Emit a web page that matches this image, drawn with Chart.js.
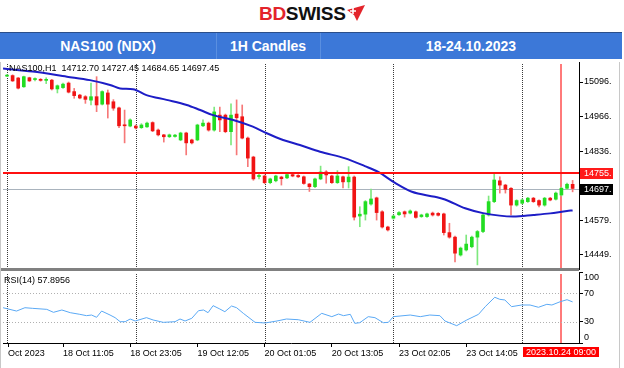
<!DOCTYPE html>
<html lang="en">
<head>
    <meta charset="UTF-8">
    <title>NAS100 (NDX) 1H Candles</title>
    <script src="https://cdn.jsdelivr.net/npm/chart.js"></script>
    <style>
        body {
            margin: 0;
            width: 624px;
            height: 368px;
            position: relative;
            overflow: hidden;
            background: #fff;
            font-family: Arial, "Liberation Sans", sans-serif;
        }
        #logo {
            position: absolute;
            left: 259px;
            top: 3px;
            font-weight: bold;
            font-size: 19px;
            line-height: 22px;
            letter-spacing: -0.3px;
            white-space: nowrap;
        }
        #logo .bd { color: #e3242b; }
        #logo .sw { color: #111; }
        #logo svg { position: absolute; left: 88px; top: 2px; }
        #header {
            position: absolute;
            left: 0;
            top: 32px;
            width: 622px;
            height: 27px;
            background: #3c78d8;
            border-top: 1px solid #2a4e8a;
            box-sizing: border-box;
        }
        #header .cell {
            position: absolute;
            top: 0;
            height: 26px;
            line-height: 26px;
            text-align: center;
            color: #fff;
            font-weight: bold;
            font-size: 14px;
        }
        #header .sep { position: absolute; top: 0; width: 1px; height: 26px; background: #5a8fe0; }
        canvas { position: absolute; left: 0; }
        #priceChart { top: 48px; }
        #rsiChart { top: 256px; }
        .info { position: absolute; font-size: 9px; line-height: 11px; color: #000; white-space: nowrap; }
        #panelSep { position: absolute; left: 0; top: 268px; width: 579px; height: 3px; background: #808080; }
        #leftEdge { position: absolute; left: 0; top: 62px; width: 1px; height: 306px; background: #c8c8c8; }
        #rightEdge { position: absolute; left: 619px; top: 62px; width: 1px; height: 306px; background: #c8c8c8; }
    </style>
</head>
<body>
    <div id="logo"><span class="bd">BD</span><span class="sw">SWISS</span><svg width="18" height="16" viewBox="0 0 18 16"><polygon points="0,5 18,0 10,16 7,10" fill="#e3242b"/><path d="M6 3v6M3 6h6" stroke="#fff" stroke-width="1.6"/></svg></div>
    <div id="header">
        <div class="cell" style="left:0;width:216px">NAS100 (NDX)</div>
        <div class="sep" style="left:216px"></div>
        <div class="cell" style="left:216px;width:104px">1H Candles</div>
        <div class="sep" style="left:320px"></div>
        <div class="cell" style="left:320px;width:302px">18-24.10.2023</div>
    </div>

    <canvas id="priceChart" width="624" height="229"></canvas>
    <canvas id="rsiChart" width="624" height="112"></canvas>
    <div id="panelSep"></div>
    <div id="leftEdge"></div>
    <div id="rightEdge"></div>
    <div class="info" style="left:9px;top:63px">NAS100,H1&nbsp; 14712.70 14727.45 14684.65 14697.45</div>
    <div class="info" style="left:4px;top:275px">RSI(14) 57.8956</div>

    <script>
        // hourly candles, 18.10 - 24.10.2023
        const open = [15118, 15120, 15111, 15078, 15112, 15105, 15106, 15102, 15103, 15070,
            15075, 15092, 15060, 15047, 15041, 15028, 15041, 15013, 15055, 15022,
            14999, 14935, 14931, 14931, 14925, 14928, 14944, 14916, 14898, 14891,
            14892, 14879, 14905, 14879, 14879, 14932, 14942, 14916, 14972, 14972,
            14910, 14976, 14966, 14886, 14815, 14742, 14744, 14719, 14726, 14740,
            14737, 14749, 14746, 14741, 14714, 14704, 14733, 14759, 14744, 14719,
            14741, 14722, 14740, 14594, 14601, 14639, 14662, 14610, 14553, 14586,
            14599, 14610, 14605, 14610, 14592, 14592, 14605, 14604, 14602, 14532,
            14515, 14448, 14467, 14479, 14515, 14536, 14598, 14648, 14726, 14710,
            14698, 14635, 14642, 14648, 14661, 14652, 14635, 14661, 14657, 14673,
            14698, 14712.70];
        const high = [15124, 15123, 15113, 15118, 15114, 15112, 15109, 15112, 15106, 15085,
            15092, 15096, 15072, 15050, 15045, 15092, 15116, 15063, 15066, 15030,
            15002, 14991, 14958, 14935, 14940, 14946, 14947, 14920, 14900, 14901,
            14900, 14908, 14908, 14882, 14938, 14954, 14946, 15002, 15002, 14976,
            15014, 15029, 15010, 14890, 14818, 14751, 14748, 14736, 14747, 14743,
            14752, 14752, 14749, 14744, 14716, 14736, 14781, 14764, 14747, 14764,
            14744, 14779, 14744, 14629, 14652, 14695, 14665, 14614, 14556, 14598,
            14611, 14613, 14617, 14613, 14601, 14605, 14609, 14607, 14605, 14567,
            14519, 14478, 14523, 14519, 14540, 14602, 14669, 14754, 14741, 14713,
            14701, 14655, 14658, 14664, 14664, 14655, 14664, 14664, 14684, 14702,
            14717, 14727.45];
        const low = [15116, 15098, 15070, 15076, 15098, 15100, 15099, 15090, 15066, 15055,
            15072, 15055, 15035, 15033, 15016, 15010, 14985, 15010, 14961, 14990,
            14925, 14868, 14928, 14920, 14922, 14926, 14910, 14894, 14871, 14888,
            14889, 14876, 14823, 14864, 14876, 14929, 14912, 14912, 14910, 14906,
            14860, 14823, 14883, 14779, 14728, 14733, 14715, 14715, 14722, 14710,
            14734, 14741, 14738, 14713, 14686, 14700, 14730, 14717, 14716, 14716,
            14699, 14699, 14579, 14554, 14579, 14635, 14579, 14549, 14538, 14582,
            14596, 14590, 14602, 14586, 14589, 14589, 14594, 14594, 14523, 14511,
            14422, 14444, 14463, 14475, 14411, 14532, 14594, 14644, 14680, 14680,
            14598, 14631, 14639, 14645, 14645, 14628, 14631, 14651, 14654, 14669,
            14694, 14684.65];
        const close = [15121, 15100, 15073, 15116, 15100, 15109, 15102, 15106, 15070, 15082,
            15088, 15058, 15045, 15036, 15031, 15041, 15010, 15060, 15013, 14998,
            14932, 14932, 14954, 14924, 14935, 14942, 14913, 14898, 14891, 14898,
            14897, 14905, 14868, 14868, 14935, 14942, 14916, 14984, 14954, 14910,
            14972, 14962, 14886, 14811, 14733, 14746, 14719, 14733, 14744, 14734,
            14749, 14744, 14741, 14716, 14704, 14733, 14759, 14748, 14719, 14744,
            14722, 14740, 14590, 14601, 14648, 14658, 14607, 14553, 14542, 14594,
            14607, 14602, 14613, 14589, 14598, 14602, 14598, 14597, 14532, 14515,
            14455, 14474, 14489, 14515, 14536, 14598, 14648, 14729, 14710, 14694,
            14635, 14652, 14654, 14661, 14648, 14635, 14661, 14654, 14680, 14698,
            14713, 14697.45];

        // moving average (blue line), read at candle positions
        const maIdx = [-0.7, 4.6, 10.7, 14.8, 18.4, 20.2, 22.5, 24.9, 28.5, 32.1, 34.5, 36.8, 40.4, 43.9, 46.4, 49.3,
            52.3, 55.9, 60.4, 63.9, 66.3, 69.3, 72.3, 76.4, 78.2, 81.8, 85, 90.4, 94, 97, 100, 101];
        const maVal = [15147, 15135, 15116, 15103, 15085, 15072, 15069, 15047, 15029, 15010, 14991, 14972, 14954, 14929, 14904, 14879,
            14860, 14835, 14810, 14781, 14759, 14718, 14685, 14666, 14656, 14623, 14605, 14592, 14598, 14604, 14613, 14615];

        // RSI(14)
        const rsiIdx = [-0.7, 1.7, 3.2, 4.6, 7.1, 8.3, 9.8, 11.3, 13.0, 14.2,
            15.1, 16.0, 16.9, 18.4, 19.3, 20.2, 21.1, 22.0, 22.9, 24.9,
            26.1, 27.9, 30.0, 30.9, 31.8, 33.0, 34.2, 35.1, 35.9, 36.8,
            38.0, 38.9, 40.1, 41.0, 42.2, 44.3, 46.1, 48.2, 49.9, 52.0,
            54.1, 56.2, 58.0, 59.2, 60.1, 61.3, 62.1, 63.0, 64.5, 65.7,
            67.2, 68.1, 69.0, 72.0, 73.8, 75.5, 77.3, 78.2, 80.3, 82.1,
            84.2, 85.4, 87.1, 88.0, 88.9, 90.1, 91.9, 93.4, 94.9, 96.4,
            97.3, 98.8, 100.0, 101.0];
        const rsiVal = [49.7, 45, 49.7, 48.8, 47.4, 43.2, 46.5, 42.7, 40.4, 38.5,
            39.4, 36.2, 45, 39.4, 35.7, 30, 30, 33.8, 31, 35.7,
            32.4, 29.1, 30, 33.8, 31, 34.8, 45.5, 46.5, 42.7, 52.6,
            47.9, 44.1, 52.1, 49.7, 41.8, 29.1, 28.2, 31, 33.8, 32.8,
            29.1, 41.8, 37.1, 40.8, 38.5, 40.4, 27.7, 28.6, 37.1, 35.7,
            28.6, 29.1, 37.1, 39.4, 37.1, 39.4, 38.5, 31, 24.4, 32.4,
            40.4, 51.2, 64.4, 61.5, 60.6, 51.2, 53.5, 53.5, 50.3, 54.5,
            53.5, 58.2, 61, 57.9];

        // axes
        const priceTicks = [14449, 14579, 14836, 14966, 15096];
        const rsiTicks = [0, 30, 70, 100];
        const timeIdx = [0.2, 10, 22, 34, 46, 58, 70, 82];
        const timeLabels = ['Oct 2023', '18 Oct 11:05', '18 Oct 23:05', '19 Oct 12:05', '20 Oct 01:05',
            '20 Oct 13:05', '23 Oct 02:05', '23 Oct 14:05'];
        const gridIdx = [0, 23, 46, 69, 92];     // dotted day separators
        const markIdx = 99;                       // red cursor line
        const markLabel = '2023.10.24 09:00';
        const levelPrice = 14755;                 // red horizontal level
        const bidPrice = 14697;                   // current price line

        const xMin = -0.714, xMax = 102.14;
        const idx = open.map((_, i) => i);
        const isUp = i => close[i] >= open[i];

        Chart.defaults.font.family = 'Arial, "Liberation Sans", sans-serif';
        Chart.defaults.font.size = 9;
        Chart.defaults.color = '#000';

        function drawVLines(chart) {
            const { ctx, chartArea: a, scales: { x } } = chart;
            ctx.save();
            ctx.lineWidth = 1;
            ctx.strokeStyle = '#3a3a3a';
            ctx.setLineDash([1, 1]);
            gridIdx.forEach(i => {
                const px = Math.round(x.getPixelForValue(i)) + 0.5;
                ctx.beginPath();
                ctx.moveTo(px, a.top + 2);
                ctx.lineTo(px, a.bottom);
                ctx.stroke();
            });
            // cursor line, light red
            ctx.fillStyle = '#ff7a7a';
            const mx = Math.round(x.getPixelForValue(markIdx));
            ctx.fillRect(mx - 1, a.top + 2, 2, a.bottom - a.top - 2);
            ctx.restore();
        }

        const priceLines = {
            id: 'priceLines',
            beforeDatasetsDraw(chart) {
                const { ctx, chartArea: a, scales: { y } } = chart;
                drawVLines(chart);
                ctx.save();
                ctx.fillStyle = '#a9b3bd';
                ctx.fillRect(a.left, Math.round(y.getPixelForValue(bidPrice)), a.right - a.left, 1);
                ctx.restore();
            },
            afterDatasetsDraw(chart) {
                const { ctx, chartArea: a, scales: { y } } = chart;
                ctx.save();
                ctx.fillStyle = '#ff1010';
                ctx.fillRect(a.left, Math.round(y.getPixelForValue(levelPrice)) - 1, a.right - a.left, 2);
                ctx.restore();
            },
            afterDraw(chart) {
                const { ctx, chartArea: a, scales: { y } } = chart;
                ctx.save();
                ctx.font = '9px Arial, "Liberation Sans", sans-serif';
                ctx.textBaseline = 'middle';
                [[levelPrice, '#ff1a1a'], [bidPrice, '#000']].forEach(([v, bg]) => {
                    const py = Math.round(y.getPixelForValue(v));
                    ctx.fillStyle = bg;
                    ctx.fillRect(a.right + 1, py - 5, 33, 11);
                    ctx.fillStyle = '#fff';
                    ctx.fillText(v + '.', a.right + 5, py + 0.5);
                });
                ctx.restore();
            }
        };

        const rsiLines = {
            id: 'rsiLines',
            beforeDatasetsDraw(chart) {
                const { ctx, chartArea: a, scales: { y } } = chart;
                drawVLines(chart);
                ctx.save();
                ctx.strokeStyle = '#b0b0b0';
                ctx.setLineDash([1, 2]);
                [30, 70].forEach(v => {
                    const py = Math.round(y.getPixelForValue(v)) + 0.5;
                    ctx.beginPath(); ctx.moveTo(a.left, py); ctx.lineTo(a.right, py); ctx.stroke();
                });
                ctx.restore();
            },
            afterDraw(chart) {
                const { ctx, chartArea: a, scales: { x } } = chart;
                const mx = Math.round(x.getPixelForValue(markIdx));
                ctx.save();
                ctx.fillStyle = '#ff0000';
                ctx.fillRect(mx - 38, a.bottom + 4, 76, 10);
                ctx.fillStyle = '#fff';
                ctx.font = '9px Arial, "Liberation Sans", sans-serif';
                ctx.textAlign = 'center';
                ctx.textBaseline = 'middle';
                ctx.fillText(markLabel, mx, a.bottom + 9.5);
                ctx.restore();
            }
        };

        const rightAxis = (extra) => Object.assign({
            position: 'right',
            afterFit: s => { s.width = 45; },
            grid: { drawOnChartArea: false, drawTicks: true, tickLength: 4, color: '#000' },
            border: { display: true, color: '#000' }
        }, extra);

        new Chart(document.getElementById('priceChart'), {
            type: 'bar',
            data: {
                datasets: [
                    {
                        type: 'line',
                        label: 'MA',
                        data: maIdx.map((x, k) => ({ x: x, y: maVal[k] })),
                        borderColor: '#1d1dc6',
                        borderWidth: 2,
                        pointRadius: 0,
                        tension: 0.3,
                        cubicInterpolationMode: 'monotone',
                        order: 0
                    },
                    {
                        label: 'Body',
                        data: idx.map(i => ({ x: i, y: [open[i], close[i]] })),
                        backgroundColor: idx.map(i => isUp(i) ? '#22dd22' : '#f01414'),
                        barThickness: 3,
                        minBarLength: 1,
                        grouped: false,
                        order: 1
                    },
                    {
                        label: 'Wick',
                        data: idx.map(i => ({ x: i, y: [low[i], high[i]] })),
                        backgroundColor: idx.map(i => isUp(i) ? '#7ee87e' : '#f67878'),
                        barThickness: 1,
                        grouped: false,
                        order: 2
                    }
                ]
            },
            options: {
                responsive: false,
                animation: false,
                layout: { padding: { left: 3, top: 14, right: 0, bottom: 8 } },
                plugins: { legend: { display: false }, tooltip: { enabled: false } },
                scales: {
                    x: { type: 'linear', min: xMin, max: xMax, offset: false, display: false },
                    y: rightAxis({
                        min: 14395.7,
                        max: 15170.9,
                        beginAtZero: false,
                        afterBuildTicks: s => { s.ticks = priceTicks.map(v => ({ value: v })); },
                        ticks: { callback: v => v + '.', padding: 1, color: '#000', autoSkip: false }
                    })
                }
            },
            plugins: [priceLines]
        });

        new Chart(document.getElementById('rsiChart'), {
            type: 'line',
            data: {
                datasets: [{
                    label: 'RSI(14)',
                    data: rsiIdx.map((x, k) => ({ x: x, y: rsiVal[k] })),
                    borderColor: '#5aa9f5',
                    borderWidth: 1,
                    pointRadius: 0,
                    tension: 0
                }]
            },
            options: {
                responsive: false,
                animation: false,
                layout: { padding: { left: 3, top: 16, right: 0, bottom: 0 } },
                plugins: { legend: { display: false }, tooltip: { enabled: false } },
                scales: {
                    x: {
                        type: 'linear',
                        min: xMin,
                        max: xMax,
                        offset: false,
                        afterBuildTicks: s => { s.ticks = timeIdx.map(v => ({ value: v })); },
                        afterFit: s => { s.height = 25; },
                        ticks: {
                            callback: (v, k) => timeLabels[k],
                            autoSkip: false,
                            maxRotation: 0,
                            align: 'start',
                            padding: 1,
                            color: '#000'
                        },
                        grid: { drawOnChartArea: false, drawTicks: true, tickLength: 4, color: '#000' },
                        border: { display: true, color: '#000' }
                    },
                    y: rightAxis({
                        min: 0,
                        max: 100,
                        afterBuildTicks: s => { s.ticks = rsiTicks.map(v => ({ value: v })); },
                        ticks: {
                            // top and bottom labels sit inside the panel
                            callback: v => v === 100 ? ['', '100'] : (v === 0 ? ['0', ''] : String(v)),
                            autoSkip: false,
                            padding: 1,
                            color: '#000'
                        }
                    })
                }
            },
            plugins: [rsiLines]
        });
    </script>
</body>
</html>
